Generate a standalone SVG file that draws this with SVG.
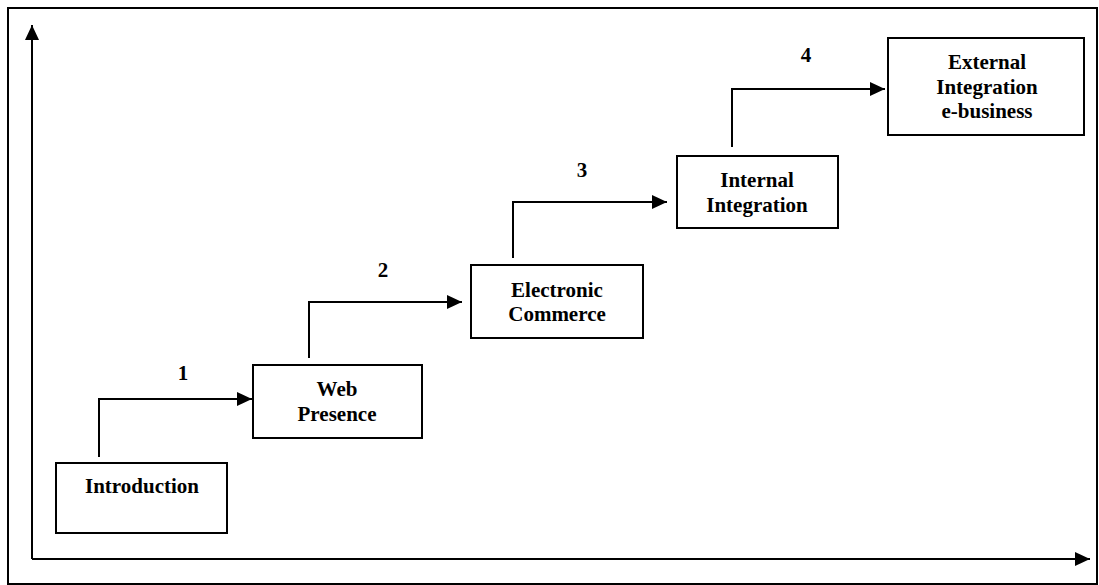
<svg xmlns="http://www.w3.org/2000/svg" width="1099" height="585" viewBox="0 0 1099 585">
<style>
.box{fill:#fff;stroke:#000;stroke-width:2}
.ln{fill:none;stroke:#000;stroke-width:2}
.t{font-family:"Liberation Serif","Times New Roman",serif;font-weight:bold;font-size:21px;text-anchor:middle;fill:#000}
</style>
<defs>
<marker id="ah" viewBox="0 0 15 14" refX="15" refY="7" markerWidth="15" markerHeight="14" markerUnits="userSpaceOnUse" orient="auto">
<path d="M0,0 L15,7 L0,14 Z" fill="#000"/>
</marker>
</defs>
<rect x="0" y="0" width="1099" height="585" fill="#fff"/>
<rect x="8" y="8" width="1089" height="576" class="ln"/>
<g id="axes">
<line x1="32" y1="559" x2="32" y2="25" class="ln" marker-end="url(#ah)"/>
<line x1="32" y1="559" x2="1090" y2="559" class="ln" marker-end="url(#ah)"/>
</g>
<g id="connectors">
<polyline points="99,457 99,399 252,399" class="ln" marker-end="url(#ah)"/>
<polyline points="309,358 309,302 462,302" class="ln" marker-end="url(#ah)"/>
<polyline points="513,258 513,202 667,202" class="ln" marker-end="url(#ah)"/>
<polyline points="732,147 732,89 885,89" class="ln" marker-end="url(#ah)"/>
<text class="t" x="183" y="380">1</text>
<text class="t" x="383" y="277">2</text>
<text class="t" x="582" y="177">3</text>
<text class="t" x="806" y="62">4</text>
</g>
<g id="introduction">
<rect x="56" y="463" width="171" height="70" class="box"/>
<text class="t" x="142" y="493">Introduction</text>
</g>
<g id="web-presence">
<rect x="253" y="365" width="169" height="73" class="box"/>
<text class="t" x="337" y="396">Web</text>
<text class="t" x="337" y="421">Presence</text>
</g>
<g id="electronic-commerce">
<rect x="471" y="265" width="172" height="73" class="box"/>
<text class="t" x="557" y="297">Electronic</text>
<text class="t" x="557" y="321">Commerce</text>
</g>
<g id="internal-integration">
<rect x="677" y="156" width="161" height="72" class="box"/>
<text class="t" x="757" y="187">Internal</text>
<text class="t" x="757" y="212">Integration</text>
</g>
<g id="external-integration">
<rect x="888" y="38" width="196" height="97" class="box"/>
<text class="t" x="987" y="69">External</text>
<text class="t" x="987" y="94">Integration</text>
<text class="t" x="987" y="118">e-business</text>
</g>
</svg>
